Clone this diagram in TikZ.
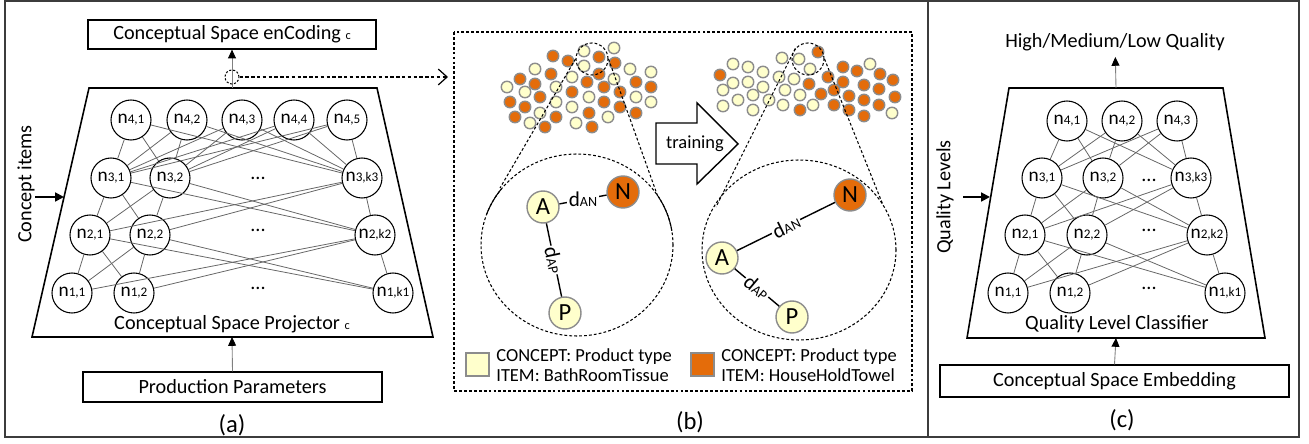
\documentclass[tikz,border=0pt]{standalone}
\usepackage{fontspec}
\setmainfont{Carlito}
\usetikzlibrary{shapes.geometric, arrows.meta, positioning, calc}
\definecolor{towelorange}{RGB}{228,108,10}
\definecolor{tissueyellow}{RGB}{255,255,204}
\definecolor{dotgray}{RGB}{140,140,140}
\definecolor{framegray}{RGB}{60,60,60}
\newcommand{\nlab}[1]{n{\fontsize{7.5}{8}\selectfont #1}}
\newcommand{\dlab}[1]{d{\fontsize{8}{9}\selectfont #1}}
\tikzset{
  neuron/.style={draw,circle,minimum size=0.8cm,inner sep=0pt,line width=0.6pt,font=\fontsize{11}{12}\selectfont},
  wire/.style={draw=black!60,line width=0.45pt},
  block/.style={draw,line width=0.7pt,inner sep=0pt,font=\fontsize{11.5}{13}\selectfont},
  funnel/.style={draw,line width=0.9pt},
  feed/.style={draw=black!50,line width=0.5pt,-{Triangle[length=5pt,width=4.5pt,color=black]}},
  push/.style={draw,line width=1.1pt,-{Triangle[length=5pt,width=5pt]}},
  cone/.style={draw,line width=0.6pt,dash pattern=on 1.6pt off 1.2pt},
  member/.style={circle,draw=dotgray,line width=0.8pt,minimum size=0.64cm,inner sep=0pt,font=\fontsize{14}{15}\selectfont},
  tissue/.style={fill=tissueyellow,draw=dotgray,line width=0.8pt},
  towel/.style={fill=towelorange,draw=dotgray,line width=0.8pt},
  dist/.style={fill=white,inner sep=0.8pt,font=\fontsize{12}{13}\selectfont},
  caption/.style={font=\fontsize{14}{16}\selectfont},
  plain/.style={font=\fontsize{11.5}{13}\selectfont}
}

\begin{document}
\begin{tikzpicture}[x=0.2mm,y=-0.2mm]
    \useasboundingbox (0,0) rectangle (1309,444);

    % frame and divider
    \draw[framegray,line width=1.1pt] (5,1) rectangle (1299,437);
    \draw[framegray,line width=1.1pt] (928,1) -- (928,437);

    % (a) conceptual space projector
    \draw[funnel] (89,88) -- (377,88) -- (433,337) -- (32,337) -- cycle;
    \coordinate (ptop) at (232,88);
    \coordinate (pbot) at (232,337);
    \coordinate (pin) at (64,197);
    \coordinate (pfrom) at (35,197);
    \foreach \x/\nm/\lb in {131/a41/{4,1},187/a42/{4,2},242/a43/{4,3},294/a44/{4,4},347/a45/{4,5}}
        \node[neuron] (\nm) at (\x,120) {\nlab{\lb}};
    \foreach \x/\nm/\lb in {111/a31/{3,1},170/a32/{3,2},362/a3k/{3,k3}}
        \node[neuron] (\nm) at (\x,178) {\nlab{\lb}};
    \foreach \x/\nm/\lb in {90/a21/{2,1},150/a22/{2,2},375/a2k/{2,k2}}
        \node[neuron] (\nm) at (\x,235) {\nlab{\lb}};
    \foreach \x/\nm/\lb in {72/a11/{1,1},134/a12/{1,2},393/a1k/{1,k1}}
        \node[neuron] (\nm) at (\x,293) {\nlab{\lb}};
    \node[plain] (adots3) at (258,178) {...};
    \node[plain] (adots2) at (258,230) {...};
    \node[plain] (adots1) at (258,288) {...};
    \foreach \u in {a41,a42,a43,a44,a45}
        \foreach \v in {a31,a32,a3k}
            \draw[wire] (\u) -- (\v);
    \foreach \u in {a31,a32,a3k}
        \foreach \v in {a21,a22,a2k}
            \draw[wire] (\u) -- (\v);
    \foreach \u in {a21,a22,a2k}
        \foreach \v in {a11,a12,a1k}
            \draw[wire] (\u) -- (\v);
    \node[plain] (aproj) at (232,324) {Conceptual Space Projector {\fontsize{7}{8}\selectfont c}};
    \node[block,minimum width=5.76cm,minimum height=0.58cm] (enc) at (232,34.5)
        {Conceptual Space enCoding {\fontsize{7}{8}\selectfont c}};
    \node[block,minimum width=5.98cm,minimum height=0.6cm] (prod) at (232.5,387) {Production Parameters};
    \node[plain,rotate=90] (citems) at (26,184) {Concept items};
    \draw[feed] (ptop) -- (enc.south);
    \draw[feed] (prod.north) -- (pbot);
    \draw[push] (pfrom) -- (pin);
    \node[circle,draw,dash pattern=on 1.2pt off 1pt,line width=0.6pt,minimum size=0.28cm,inner sep=0pt] (tap) at (232,77) {};
    \coordinate (bentry) at (448,77);
    \draw[line width=0.7pt,dash pattern=on 2pt off 1.3pt,-{Straight Barb[length=5pt,width=9pt]}] (tap.east) -- (bentry);
    \node[caption] (capa) at (232,425) {(a)};

    % (b) concept space before and after training
    \draw[cone] (454,32) rectangle (912,391);
    \foreach \x/\y in {553/56,568/61,599/57,615/63,551/74,599/74,520/79,535/84,587/82,636/82,651/87,540/97,572/92,604/87,620/92,510/102,525/107,604/102,620/107,589/113,636/113,515/117,556/117,545/127,592/127}
        \filldraw[towel] (\x,\y) circle (1.15mm);
    \foreach \x/\y in {584/51,614/48,584/66,535/69,572/77,630/69,651/72,556/87,614/79,507/87,525/92,589/97,636/97,651/102,556/102,572/107,540/113,608/117,530/123,576/123}
        \filldraw[tissue] (\x,\y) circle (1.15mm);
    \foreach \x/\y in {818/52,720/75,843/67,857/71,880/74,828/77,809/84,843/82,864/85,879/89,893/80,821/94,834/90,849/96,864/100,879/105,895/97,834/105,849/110,800/110,864/116}
        \filldraw[towel] (\x,\y) circle (1.15mm);
    \foreach \x/\y in {799/59,782/58,810/69,794/79,779/77,785/90,800/95,813/105,769/100,783/105,753/95,753/110,763/87,748/82,733/83,748/67,733/64,763/72,723/90,738/100,723/106,870/64,892/113}
        \filldraw[tissue] (\x,\y) circle (1.15mm);

    \node[circle,cone,minimum size=0.64cm,inner sep=0pt] (lzoom) at (592,59) {};
    \node[circle,cone,minimum size=0.64cm,inner sep=0pt] (rzoom) at (808,59) {};
    \draw[cone] (577,245) ellipse [x radius=19.2mm,y radius=18.2mm];
    \draw[cone] (799,250) ellipse [x radius=19.4mm,y radius=18mm];
    \draw[line width=0.6pt] ([shift={(142:19.2mm and 18.2mm)}]577,245) arc[start angle=142,end angle=160,x radius=19.2mm,y radius=18.2mm];
    \draw[line width=0.6pt] ([shift={(9:19.2mm and 18.2mm)}]577,245) arc[start angle=9,end angle=32,x radius=19.2mm,y radius=18.2mm];
    \coordinate (lrimw) at (500,188);
    \coordinate (lrime) at (658,197);
    \coordinate (rrimw) at (716,207);
    \coordinate (rrime) at (883,205);
    \draw[cone] (lzoom.west) -- (lrimw);
    \draw[cone] (lzoom.east) -- (lrime);
    \draw[cone] (rzoom.140) -- (rrimw);
    \draw[cone] (rzoom.east) -- (rrime);

    % before training
    \node[member,fill=tissueyellow] (lA) at (543,207) {A};
    \node[member,fill=towelorange] (lN) at (623,192) {N};
    \node[member,fill=tissueyellow] (lP) at (565,313) {P};
    \draw[line width=0.8pt] (lA) -- node[dist] {\dlab{AN}} (lN);
    \draw[line width=0.8pt] (lA) -- node[dist,sloped] {\dlab{AP}} (lP);

    % after training
    \node[member,fill=tissueyellow] (rA) at (722,258) {A};
    \node[member,fill=towelorange] (rN) at (850,195) {N};
    \node[member,fill=tissueyellow] (rP) at (792,317) {P};
    \draw[line width=0.8pt] (rA) -- node[dist,sloped] {\dlab{AN}} (rN);
    \draw[line width=0.8pt] (rA) -- node[dist,sloped] {\dlab{AP}} (rP);

    % training arrow
    \draw[line width=0.8pt] (656,123) -- (697,123) -- (697,103) -- (738,144) -- (697,184) -- (697,164) -- (656,164) -- cycle;
    \node[font=\fontsize{10.5}{12}\selectfont] (train) at (695,144) {training};

    % legend
    \node[draw=dotgray,fill=tissueyellow,line width=0.8pt,minimum size=0.46cm,inner sep=0pt] (keytissue) at (477.5,364.5) {};
    \node[draw=dotgray,fill=towelorange,line width=0.8pt,minimum size=0.46cm,inner sep=0pt] (keytowel) at (702.5,364.5) {};
    \node[anchor=west,align=left,inner sep=0pt,font=\fontsize{10.5}{11.4}\selectfont] (txttissue) at (496,365)
        {CONCEPT: Product type\\ITEM: BathRoomTissue};
    \node[anchor=west,align=left,inner sep=0pt,font=\fontsize{10.5}{11.4}\selectfont] (txttowel) at (721,365)
        {CONCEPT: Product type\\ITEM: HouseHoldTowel};
    \node[caption] (capb) at (690,422) {(b)};

    % (c) quality level classifier
    \draw[funnel] (1009,88) -- (1223,88) -- (1265,338) -- (967,338) -- cycle;
    \coordinate (ctop) at (1116,88);
    \coordinate (cbot) at (1116,338);
    \coordinate (cin) at (990,197);
    \coordinate (cfrom) at (963,197);
    \foreach \x/\nm/\lb in {1067/c41/{4,1},1122/c42/{4,2},1177/c43/{4,3}}
        \node[neuron] (\nm) at (\x,121) {\nlab{\lb}};
    \foreach \x/\nm/\lb in {1042/c31/{3,1},1103/c32/{3,2},1191/c3k/{3,k3}}
        \node[neuron] (\nm) at (\x,178) {\nlab{\lb}};
    \foreach \x/\nm/\lb in {1025/c21/{2,1},1087/c22/{2,2},1207/c2k/{2,k2}}
        \node[neuron] (\nm) at (\x,235) {\nlab{\lb}};
    \foreach \x/\nm/\lb in {1008/c11/{1,1},1070/c12/{1,2},1225/c1k/{1,k1}}
        \node[neuron] (\nm) at (\x,293) {\nlab{\lb}};
    \node[plain] (cdots3) at (1149,180) {...};
    \node[plain] (cdots2) at (1149,230) {...};
    \node[plain] (cdots1) at (1149,288) {...};
    \foreach \u in {c41,c42,c43}
        \foreach \v in {c31,c32,c3k}
            \draw[wire] (\u) -- (\v);
    \foreach \u in {c31,c32,c3k}
        \foreach \v in {c21,c22,c2k}
            \draw[wire] (\u) -- (\v);
    \foreach \u in {c21,c22,c2k}
        \foreach \v in {c11,c12,c1k}
            \draw[wire] (\u) -- (\v);
    \node[plain] (cclass) at (1117,324) {Quality Level Classifier};
    \node[plain] (hml) at (1115,42) {High/Medium/Low Quality};
    \node[block,minimum width=6.98cm,minimum height=0.64cm] (emb) at (1114.5,381) {Conceptual Space Embedding};
    \node[plain,rotate=90] (qlev) at (945,197) {Quality Levels};
    \draw[feed] (ctop) -- (hml);
    \draw[feed] (emb.north) -- (cbot);
    \draw[push] (cfrom) -- (cin);
    \node[caption] (capc) at (1122,420) {(c)};
\end{tikzpicture}
\end{document}
